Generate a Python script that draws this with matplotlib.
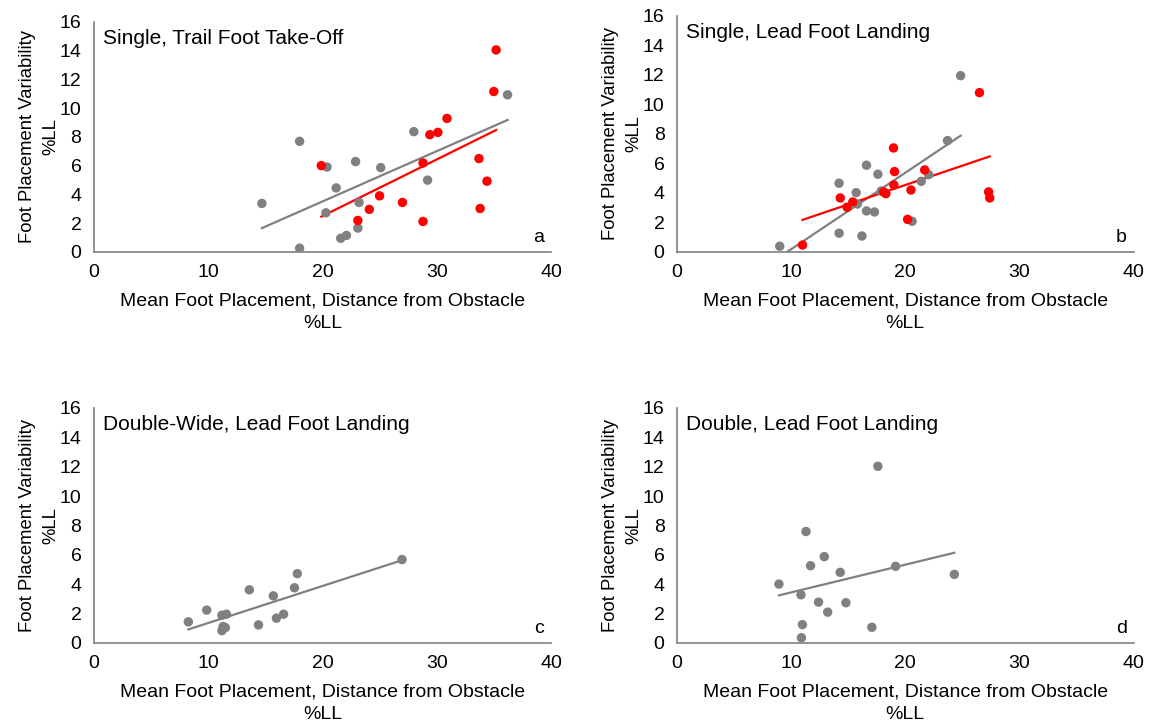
import numpy as np
import matplotlib.pyplot as plt

plt.rcParams['font.family'] = ['Liberation Sans', 'DejaVu Sans']

# Panel a: Single, Trail Foot Take-Off
a_gray_x = [14.7, 18.0, 18.0, 20.4, 20.3, 21.2, 22.9, 23.2, 21.6, 22.1, 23.1, 25.1, 28.0, 29.2, 36.2]
a_gray_y = [3.37, 7.69, 0.26, 5.9, 2.72, 4.45, 6.28, 3.44, 0.95, 1.15, 1.66, 5.86, 8.36, 4.99, 10.92]
a_red_x = [19.9, 23.1, 24.1, 25.0, 27.0, 28.8, 28.8, 29.4, 30.1, 30.9, 33.7, 33.8, 34.4, 35.0, 35.2]
a_red_y = [6.0, 2.19, 2.96, 3.9, 3.44, 6.18, 2.12, 8.15, 8.31, 9.28, 6.49, 3.02, 4.92, 11.15, 14.04]

# Panel b: Single, Lead Foot Landing
b_gray_x = [9.0, 14.2, 14.2, 15.7, 15.8, 16.2, 16.6, 16.6, 17.3, 17.6, 17.9, 20.6, 21.4, 22.05, 23.7, 24.85]
b_gray_y = [0.39, 1.27, 4.66, 4.02, 3.25, 1.08, 5.88, 2.78, 2.71, 5.27, 4.13, 2.08, 4.79, 5.24, 7.55, 11.95]
b_red_x = [11.0, 14.3, 14.9, 15.4, 18.1, 18.3, 18.97, 19.06, 19.0, 20.2, 20.5, 21.7, 26.5, 27.3, 27.4]
b_red_y = [0.47, 3.66, 3.03, 3.39, 4.07, 3.95, 7.05, 5.45, 4.54, 2.21, 4.2, 5.56, 10.8, 4.07, 3.66]

# Panel c: Double-Wide, Lead Foot Landing
c_x = [8.26, 9.87, 11.2, 11.6, 11.3, 11.5, 11.2, 13.6, 14.4, 15.7, 15.97, 16.6, 17.55, 17.8, 26.96]
c_y = [1.44, 2.24, 1.89, 1.96, 1.12, 1.05, 0.84, 3.62, 1.23, 3.21, 1.69, 1.96, 3.76, 4.72, 5.68]

# Panel d: Double, Lead Foot Landing
d_x = [8.93, 10.86, 11.3, 11.7, 10.99, 10.9, 12.4, 12.9, 13.2, 14.3, 14.8, 17.07, 17.6, 19.15, 24.3]
d_y = [4.01, 3.28, 7.59, 5.26, 1.25, 0.36, 2.78, 5.88, 2.1, 4.81, 2.74, 1.07, 12.03, 5.22, 4.67]

titles = ["Single, Trail Foot Take-Off", "Single, Lead Foot Landing",
          "Double-Wide, Lead Foot Landing", "Double, Lead Foot Landing"]
letters = ["a", "b", "c", "d"]

GRAY = '#808080'
RED = '#FF0000'


def trend(ax, x, y, color):
    x = np.array(x)
    y = np.array(y)
    m, b = np.polyfit(x, y, 1)
    xs = np.array([x.min(), x.max()])
    ax.plot(xs, m * xs + b, color=color, lw=1.6, zorder=3)


fig = plt.figure(figsize=(11.5, 7.24), dpi=100)
boxes = [[0.0817, 0.652, 0.3974, 0.318],
         [0.5887, 0.652, 0.397, 0.326],
         [0.0817, 0.1119, 0.3974, 0.3246],
         [0.5887, 0.1119, 0.397, 0.3246]]

series = [
    [(a_gray_x, a_gray_y, GRAY), (a_red_x, a_red_y, RED)],
    [(b_gray_x, b_gray_y, GRAY), (b_red_x, b_red_y, RED)],
    [(c_x, c_y, GRAY)],
    [(d_x, d_y, GRAY)],
]

for i in range(4):
    ax = fig.add_axes(boxes[i])
    for x, y, col in series[i]:
        ax.scatter(x, y, s=46, color=col, edgecolors='none', zorder=4)
        trend(ax, x, y, col)
    ax.set_xlim(0, 40)
    ax.set_ylim(0, 16)
    ax.set_xticks([0, 10, 20, 30, 40])
    ax.set_yticks(range(0, 17, 2))
    ax.tick_params(length=0, labelsize=14, pad=9)
    for s in ['top', 'right']:
        ax.spines[s].set_visible(False)
    for s in ['left', 'bottom']:
        ax.spines[s].set_color(GRAY)
        ax.spines[s].set_linewidth(1.2)
    ax.set_ylabel("Foot Placement Variability\n%LL", fontsize=13.3, labelpad=0,
                  linespacing=1.5)
    ax.set_xlabel("Mean Foot Placement, Distance from Obstacle\n%LL", fontsize=14,
                  labelpad=8, linespacing=1.45)
    ax.text(0.02, 0.97, titles[i], transform=ax.transAxes, fontsize=15,
            va='top', ha='left')
    ax.text(0.985, 0.025, letters[i], transform=ax.transAxes, fontsize=14,
            va='bottom', ha='right')

fig.savefig('out.png', dpi=100)
